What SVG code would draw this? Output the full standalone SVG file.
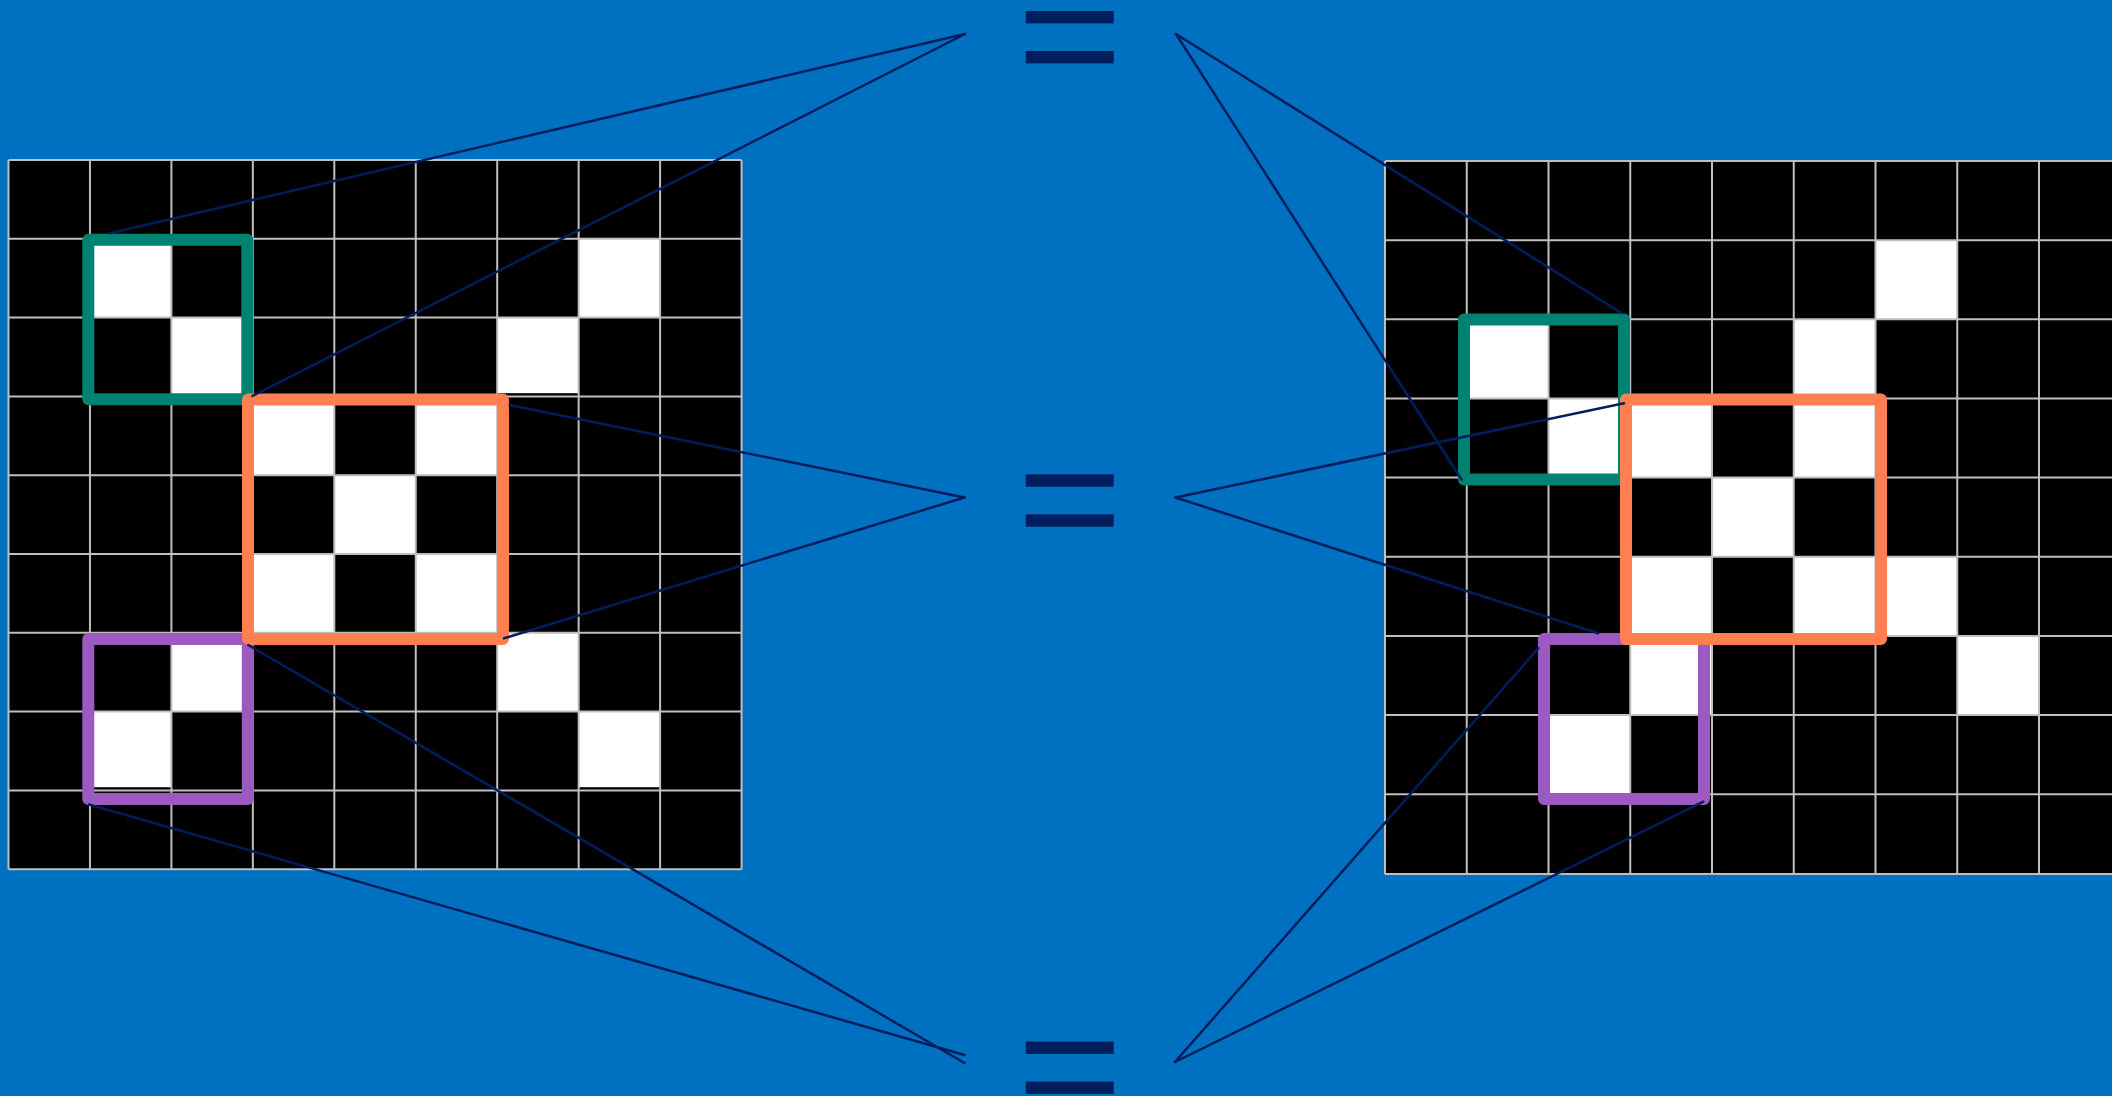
<svg xmlns="http://www.w3.org/2000/svg" width="2112" height="1096" viewBox="0 0 2112 1096">
<style>
.bg{fill:#0070c0}
.blk{fill:#000}
.w{fill:#fff}
.gl{stroke:#bfbfbf;stroke-width:2;fill:none}
.box{fill:none;stroke-width:12;stroke-linejoin:round}
.teal{stroke:#008272}
.orange{stroke:#ff7f50}
.purple{stroke:#9a5abf}
.eq{fill:#001e5e}
.conn{stroke:#001e5e;stroke-width:2.5;fill:none;stroke-linecap:round}
</style>
<rect class="bg" x="0" y="0" width="2112" height="1096"/>

<g id="left-grid">
<rect class="blk" x="8.5" y="160" width="733" height="709.2"/>
<rect class="w" x="89.95" y="238.8" width="81.45" height="78.8"/>
<rect class="w" x="578.65" y="238.8" width="81.45" height="78.8"/>
<rect class="w" x="171.4" y="317.6" width="81.45" height="78.8"/>
<rect class="w" x="497.2" y="317.6" width="81.45" height="75.6"/>
<rect class="w" x="252.85" y="396.4" width="81.45" height="78.8"/>
<rect class="w" x="415.75" y="396.4" width="81.45" height="78.8"/>
<rect class="w" x="334.3" y="475.2" width="81.45" height="78.8"/>
<rect class="w" x="252.85" y="554" width="81.45" height="78.8"/>
<rect class="w" x="415.75" y="554" width="81.45" height="78.8"/>
<rect class="w" x="171.4" y="632.8" width="81.45" height="78.8"/>
<rect class="w" x="497.2" y="632.8" width="81.45" height="78.8"/>
<rect class="w" x="89.95" y="711.6" width="81.45" height="75.6"/>
<rect class="w" x="578.65" y="711.6" width="81.45" height="75.6"/>
<path class="gl" d="M8.5 160V869.2M89.95 160V869.2M171.4 160V869.2M252.85 160V869.2M334.3 160V869.2M415.75 160V869.2M497.2 160V869.2M578.65 160V869.2M660.1 160V869.2M741.55 160V869.2M8.5 160H741.55M8.5 238.8H741.55M8.5 317.6H741.55M8.5 396.4H741.55M8.5 475.2H741.55M8.5 554H741.55M8.5 632.8H741.55M8.5 711.6H741.55M8.5 790.4H741.55M8.5 869.2H741.55"/>
</g>

<g id="right-grid">
<rect class="blk" x="1385" y="161" width="735.75" height="712.35"/>
<rect class="w" x="1875.5" y="240.15" width="81.75" height="79.15"/>
<rect class="w" x="1466.75" y="319.3" width="81.75" height="79.15"/>
<rect class="w" x="1793.75" y="319.3" width="81.75" height="79.15"/>
<rect class="w" x="1548.5" y="398.45" width="81.75" height="79.15"/>
<rect class="w" x="1630.25" y="398.45" width="81.75" height="79.15"/>
<rect class="w" x="1793.75" y="398.45" width="81.75" height="79.15"/>
<rect class="w" x="1712" y="477.6" width="81.75" height="79.15"/>
<rect class="w" x="1630.25" y="556.75" width="81.75" height="79.15"/>
<rect class="w" x="1793.75" y="556.75" width="81.75" height="79.15"/>
<rect class="w" x="1875.5" y="556.75" width="81.75" height="79.15"/>
<rect class="w" x="1630.25" y="635.9" width="81.75" height="79.15"/>
<rect class="w" x="1957.25" y="635.9" width="81.75" height="79.15"/>
<rect class="w" x="1548.5" y="715.05" width="81.75" height="79.15"/>
<path class="gl" d="M1385 161V874M1466.75 161V874M1548.5 161V874M1630.25 161V874M1712 161V874M1793.75 161V874M1875.5 161V874M1957.25 161V874M2039 161V874M2120.75 161V874M1385 161H2120.75M1385 240.15H2120.75M1385 319.3H2120.75M1385 398.45H2120.75M1385 477.6H2120.75M1385 556.75H2120.75M1385 635.9H2120.75M1385 715.05H2120.75M1385 794.2H2120.75M1385 874H2120.75"/>
</g>

<g id="left-teal"><rect class="box teal" x="88.3" y="239.7" width="159" height="159.5"/></g>
<g id="left-purple"><rect class="box purple" x="88.3" y="639" width="159.5" height="160"/></g>
<g id="left-orange"><rect class="box orange" x="248" y="399.5" width="255" height="239.5"/></g>

<g id="right-teal"><rect class="box teal" x="1464" y="319.5" width="160" height="160"/></g>
<g id="right-purple"><rect class="box purple" x="1544" y="639" width="160" height="160"/></g>
<g id="right-orange"><rect class="box orange" x="1626" y="399.5" width="255" height="239.5"/></g>

<g id="eq-top"><rect class="eq" x="1025.7" y="11" width="88" height="12.4"/><rect class="eq" x="1025.7" y="51" width="88" height="12.4"/></g>
<g id="eq-middle"><rect class="eq" x="1025.7" y="474.3" width="88" height="12.4"/><rect class="eq" x="1025.7" y="514.3" width="88" height="12.4"/></g>
<g id="eq-bottom"><rect class="eq" x="1025.7" y="1041.5" width="88" height="12.4"/><rect class="eq" x="1025.7" y="1081.5" width="88" height="12.4"/></g>

<g id="connectors">
<path class="conn" d="M965 34L110 233.3"/>
<path class="conn" d="M965 34L252.3 396"/>
<path class="conn" d="M1176 34L1621.7 313.3"/>
<path class="conn" d="M1176 34L1461.5 479.5"/>
<path class="conn" d="M964.5 497.5L509.5 405"/>
<path class="conn" d="M964.5 497.5L504 638.3"/>
<path class="conn" d="M1175.5 497.5L1624 403.3"/>
<path class="conn" d="M1175.5 497.5L1598 633.3"/>
<path class="conn" d="M964.5 1055L89 804.5"/>
<path class="conn" d="M964.5 1063L248.3 645"/>
<path class="conn" d="M1175 1062L1538.3 648.3"/>
<path class="conn" d="M1175 1062L1703.3 801.7"/>
</g>
</svg>
